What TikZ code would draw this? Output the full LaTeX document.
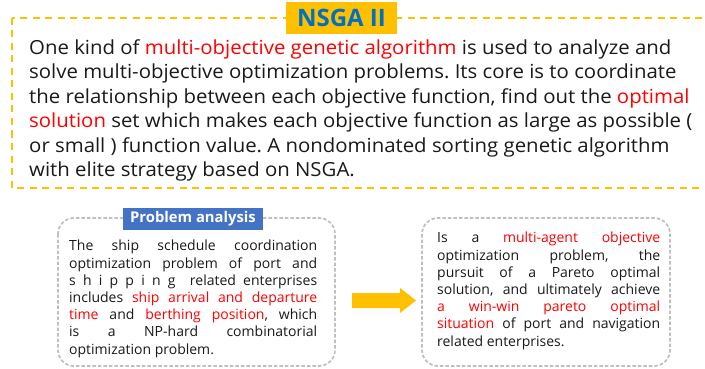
\documentclass[tikz,border=0pt]{standalone}
\usepackage{fontspec}
\setmainfont{Open Sans}
\newfontfamily\widefont[FakeStretch=1.05]{Open Sans}
\definecolor{gold}{HTML}{FFC000}
\definecolor{titleblue}{HTML}{0070C0}
\definecolor{labelblue}{HTML}{4472C4}
\definecolor{ink}{HTML}{1A1A1A}
\definecolor{hl}{HTML}{FF0000}
\definecolor{frame}{HTML}{BFBFBF}
\newcommand{\hlt}[1]{\textcolor{hl}{#1}}
\frenchspacing
\tikzset{
  goldframe/.style={draw=gold, line width=2.6pt, dash pattern=on 7pt off 5.5pt},
  greyframe/.style={draw=frame, line width=1.7pt, dash pattern=on 3.5pt off 2pt, rounded corners=16pt},
  titletag/.style={fill=gold, text=titleblue, font=\fontsize{24}{28}\selectfont\bfseries, inner sep=0pt},
  labeltag/.style={fill=labelblue, text=white, font=\fontsize{14.8}{17}\selectfont\bfseries, inner sep=0pt},
  bodytext/.style={text=ink, inner sep=0pt, anchor=north west},
}
\begin{document}
\begin{tikzpicture}[x=1pt, y=-1pt]
\useasboundingbox (0,0) rectangle (705,369);
\fill[white] (0,0) rectangle (705,369);

% upper framed block
\draw[goldframe] (12,18) rectangle (712,188);
\node[titletag, minimum width=111pt, minimum height=32pt] (title) at (341.5,18) {NSGA II};
\node[bodytext, align=left, font=\widefont\fontsize{19.4}{24.5}\selectfont] (intro) at (29,39)
{One kind of \hlt{multi-objective genetic algorithm} is used to analyze and\\
solve multi-objective optimization problems. Its core is to coordinate\\
the relationship between each objective function, find out the \hlt{optimal}\\
\hlt{solution} set which makes each objective function as large as possible (\\
or small ) function value. A nondominated sorting genetic algorithm\\
with elite strategy based on NSGA.};

% lower left block
\draw[greyframe] (58,218) rectangle (335,366);
\node[labeltag, minimum width=140pt, minimum height=22pt] (label) at (193,219) {Problem analysis};
\node[bodytext, text width=248pt, align=justify, font=\fontsize{14}{17.2}\selectfont] (problem) at (69,240)
{\hyphenpenalty=10000 \tolerance=10000
The ship schedule coordination\linebreak
optimization problem of port and\linebreak
s h i p p i n g~ related enterprises\linebreak
includes \hlt{ship arrival and departure\linebreak
time} and \hlt{berthing position}, which\linebreak
is a NP-hard combinatorial\linebreak
optimization problem.};

% lower right block
\draw[greyframe] (422,218) rectangle (670,366);
\node[bodytext, text width=223pt, align=justify, font=\fontsize{14}{17.2}\selectfont] (result) at (437,232)
{\hyphenpenalty=10000 \tolerance=10000
Is a \hlt{multi-agent objective}\linebreak
optimization problem, the\linebreak
pursuit of a Pareto optimal\linebreak
solution, and ultimately achieve\linebreak
\hlt{a win-win pareto optimal\linebreak
situation} of port and navigation\linebreak
related enterprises.};

% block arrow between the two lower blocks
\coordinate (tail) at (352,300.5);
\coordinate (tip) at (416,300.5);
\fill[gold] ([yshift=-7.5pt]tail) -- ([xshift=-16pt,yshift=-7.5pt]tip) -- ([xshift=-16pt,yshift=-12.5pt]tip)
  -- (tip) -- ([xshift=-16pt,yshift=12.5pt]tip) -- ([xshift=-16pt,yshift=7.5pt]tip) -- ([yshift=7.5pt]tail) -- cycle;
\end{tikzpicture}
\end{document}
